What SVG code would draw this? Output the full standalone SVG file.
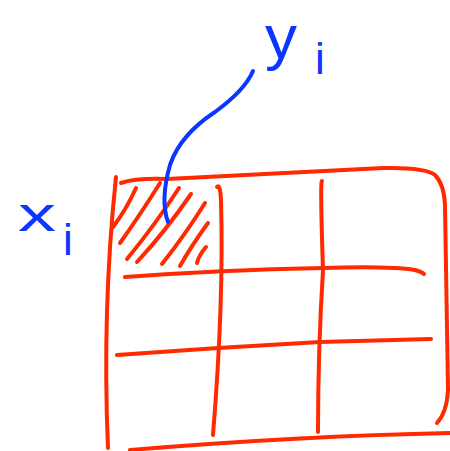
<svg xmlns="http://www.w3.org/2000/svg" width="450" height="451" viewBox="0 0 450 451">
<style>
.r{fill:none;stroke:#ff2a00;stroke-width:4;stroke-linecap:round;stroke-linejoin:round}
.b{fill:none;stroke:#0a36ff;stroke-width:4;stroke-linecap:round}
.t{fill:#0a36ff;font-family:"Liberation Sans",Arial,sans-serif}
</style>
<rect width="450" height="451" fill="#fff"/>
<g id="grid">
<path class="r" d="M116,177 Q102,310 108,448"/>
<path class="r" d="M121,183 Q135,178 167,179 L383,168 Q425,167 435,175 Q444,184 445,205 L448,390 Q447,412 437,423"/>
<path class="r" d="M130,450 Q300,436 450,433"/>
<path class="r" d="M217,187 Q220,183 221,200 Q224,300 213,435"/>
<path class="r" d="M322,181 Q320,180 323,270 Q318,350 318,432"/>
<path class="r" d="M125,277 Q220,270 323,268 Q390,266 415,270 Q422,272 424,274"/>
<path class="r" d="M117,355 L218,348 L320,342 L431,339"/>
</g>
<g id="hatch">
<path class="r" d="M136,188 Q126,210 113,227"/>
<path class="r" d="M160,183 Q140,215 120,243"/>
<path class="r" d="M179,188 Q155,225 127,259"/>
<path class="r" d="M191,194 Q165,232 137,262"/>
<path class="r" d="M205,203 Q185,235 162,264"/>
<path class="r" d="M208,223 Q192,245 180,266"/>
<path class="r" d="M206,247 Q199,255 197,263"/>
</g>
<g id="connectors">
<path class="b" d="M253,71 Q245,90 215,112 Q180,135 170,165 Q160,200 168,222"/>
</g>
<g id="labels">
<text class="t" x="18" y="231" font-size="48" textLength="38" lengthAdjust="spacingAndGlyphs">x</text>
<text class="t" x="63" y="255" font-size="44">i</text>
<text class="t" x="265" y="58" font-size="62" textLength="32" lengthAdjust="spacingAndGlyphs">y</text>
<text class="t" x="315" y="74" font-size="44">i</text>
</g>
</svg>
